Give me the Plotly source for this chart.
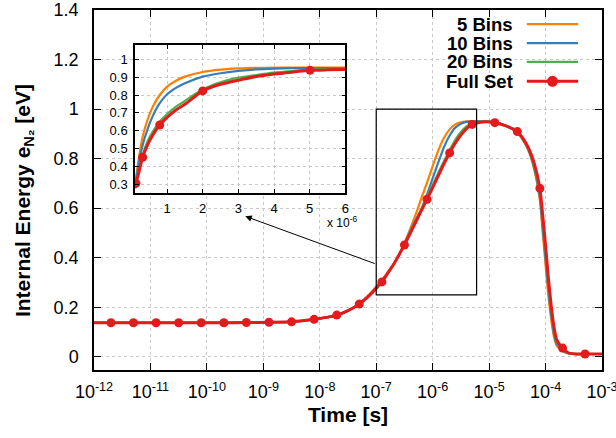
import plotly.graph_objects as go

# ---------------- data: main panel (time in s) ----------------
main_times = [1e-12, 2e-12, 5e-12, 1.26e-11, 3.16e-11, 7.94e-11, 2e-10, 5e-10, 1.26e-9, 3.16e-9,
              7.94e-9, 2e-8, 3.16e-8, 5e-8, 7.94e-8, 1e-7, 1.26e-7, 1.58e-7, 2e-7, 2.51e-7,
              3.16e-7, 3.98e-7, 5.01e-7, 6.31e-7, 7.94e-7, 1e-6, 1.26e-6, 1.58e-6, 2e-6, 2.51e-6,
              3.16e-6, 3.98e-6, 5.01e-6, 6.31e-6, 7.94e-6, 1e-5, 1.26e-5, 2e-5, 3.16e-5, 3.98e-5,
              5.01e-5, 6.31e-5, 7.94e-5, 8.91e-5, 1e-4, 1.12e-4, 1.26e-4, 1.41e-4, 1.58e-4, 2e-4,
              2.51e-4, 3.16e-4, 5.01e-4, 1e-3]

flat_start = [0.137, 0.137, 0.137, 0.137, 0.137, 0.137, 0.137, 0.138, 0.139, 0.141,
              0.151, 0.168, 0.186]

bins5_main = flat_start + [0.214, 0.257, 0.283, 0.31, 0.34, 0.372, 0.408,
              0.46, 0.515, 0.575, 0.64, 0.703, 0.77, 0.833, 0.883, 0.918, 0.938,
              0.947, 0.95, 0.951, 0.951, 0.95, 0.949, 0.946, 0.932, 0.905, 0.875,
              0.83, 0.755, 0.63, 0.5, 0.37, 0.25, 0.15, 0.08, 0.045, 0.022,
              0.013, 0.011, 0.011, 0.011]

bins10_main = flat_start + [0.213, 0.255, 0.28, 0.306, 0.337, 0.371, 0.407,
              0.456, 0.505, 0.553, 0.597, 0.655, 0.72, 0.785, 0.845, 0.893, 0.925,
              0.941, 0.948, 0.95, 0.95, 0.95, 0.949, 0.946, 0.932, 0.906, 0.877,
              0.834, 0.762, 0.645, 0.52, 0.395, 0.27, 0.168, 0.092, 0.052, 0.026,
              0.014, 0.011, 0.011, 0.011]

bins20_main = flat_start + [0.213, 0.253, 0.278, 0.304, 0.336, 0.37, 0.409,
              0.453, 0.5, 0.547, 0.594, 0.643, 0.693, 0.743, 0.789, 0.835, 0.876,
              0.908, 0.93, 0.943, 0.948, 0.95, 0.949, 0.946, 0.932, 0.907, 0.879,
              0.838, 0.77, 0.66, 0.545, 0.42, 0.295, 0.185, 0.105, 0.06, 0.03,
              0.015, 0.011, 0.011, 0.011]

full_main = flat_start + [0.2125, 0.252, 0.276, 0.302, 0.335, 0.37, 0.41,
              0.451, 0.497, 0.543, 0.59, 0.636, 0.683, 0.731, 0.778, 0.823, 0.862,
              0.895, 0.921, 0.938, 0.945, 0.948, 0.948, 0.945, 0.932, 0.909, 0.882,
              0.842, 0.78, 0.68, 0.57, 0.45, 0.32, 0.205, 0.12, 0.068, 0.035,
              0.016, 0.012, 0.011, 0.011]

full_marker_times = [2e-12, 5e-12, 1.26e-11, 3.16e-11, 7.94e-11, 2e-10, 5e-10, 1.26e-9,
                     3.16e-9, 7.94e-9, 2e-8, 5e-8, 1.26e-7, 3.16e-7, 7.94e-7, 2e-6, 5.01e-6,
                     1.26e-5, 3.16e-5, 7.94e-5, 2e-4, 5.01e-4]

# ---------------- data: inset (time in units of 1e-6 s) ----------------
inset_times = [0.1, 0.126, 0.2, 0.316, 0.45, 0.6, 0.794, 1.0, 1.25, 1.5, 2.0, 2.5, 3.0,
               3.5, 4.0, 4.5, 5.01, 5.5, 6.0]
bins5_inset = [0.29, 0.33, 0.436, 0.567, 0.66, 0.735, 0.80, 0.847, 0.88, 0.903, 0.929,
               0.942, 0.949, 0.952, 0.953, 0.953, 0.953, 0.953, 0.953]
bins10_inset = [0.288, 0.32, 0.41, 0.52, 0.608, 0.683, 0.754, 0.804, 0.84, 0.866, 0.903,
                0.922, 0.935, 0.944, 0.948, 0.95, 0.951, 0.951, 0.951]
bins20_inset = [0.286, 0.31, 0.37, 0.465, 0.54, 0.595, 0.65, 0.694, 0.735, 0.767, 0.832,
                0.871, 0.897, 0.912, 0.925, 0.934, 0.942, 0.946, 0.948]
full_inset = [0.278, 0.306, 0.36, 0.451, 0.52, 0.576, 0.632, 0.675, 0.716, 0.748, 0.823,
              0.86, 0.883, 0.903, 0.917, 0.928, 0.938, 0.941, 0.943]
inset_marker_times = [0.126, 0.316, 0.794, 2.0, 5.01]

series_names = ["5 Bins", "10 Bins", "20 Bins", "Full Set"]
series_colors = ["#ff7f00", "#377eb8", "#4daf4a", "#e41a1c"]
x_tick_vals = [1e-12, 1e-11, 1e-10, 1e-9, 1e-8, 1e-7, 1e-6, 1e-5, 1e-4, 1e-3]
x_tick_text = ["10<sup>-12</sup>", "10<sup>-11</sup>", "10<sup>-10</sup>", "10<sup>-9</sup>",
               "10<sup>-8</sup>", "10<sup>-7</sup>", "10<sup>-6</sup>", "10<sup>-5</sup>",
               "10<sup>-4</sup>", "10<sup>-3</sup>"]
inset_tick_vals = [1, 2, 3, 4, 5, 6]
zoom_box_x = [1e-7, 6e-6]
zoom_box_y = [0.25, 1.0]

FONT = "Liberation Sans, Arial, sans-serif"
fig = go.Figure()

main_series = [bins5_main, bins10_main, bins20_main, full_main]
inset_series = [bins5_inset, bins10_inset, bins20_inset, full_inset]
widths = [2.2, 2.2, 2.2, 3]

for name, col, w, ys in zip(series_names, series_colors, widths, main_series):
    fig.add_trace(go.Scatter(x=main_times, y=ys, mode="lines", name=name,
                             line=dict(color=col, width=w, shape="spline", smoothing=0.6),
                             showlegend=False, xaxis="x", yaxis="y"))
idx = [main_times.index(t) for t in full_marker_times]
fig.add_trace(go.Scatter(x=[main_times[i] for i in idx], y=[full_main[i] for i in idx],
                         mode="markers", marker=dict(color=series_colors[3], size=9),
                         showlegend=False, xaxis="x", yaxis="y"))

for name, col, w, ys in zip(series_names, series_colors, widths, inset_series):
    fig.add_trace(go.Scatter(x=inset_times, y=ys, mode="lines", name=name,
                             line=dict(color=col, width=w, shape="spline", smoothing=0.6),
                             showlegend=False, xaxis="x2", yaxis="y2"))
iidx = [inset_times.index(t) for t in inset_marker_times]
fig.add_trace(go.Scatter(x=[inset_times[i] for i in iidx], y=[full_inset[i] for i in iidx],
                         mode="markers", marker=dict(color=series_colors[3], size=9),
                         showlegend=False, xaxis="x2", yaxis="y2"))

axis_common = dict(showline=True, linecolor="black", linewidth=1.5, mirror="allticks",
                   ticks="inside", tickcolor="black", tickwidth=1, showgrid=True,
                   gridcolor="#c8c8c8", griddash="dot", gridwidth=1, zeroline=False,
                   automargin=False)

fig.update_layout(
    width=616, height=438,
    margin=dict(l=94, r=14, t=10, b=68),
    paper_bgcolor="white", plot_bgcolor="white",
    font=dict(family=FONT, color="black"),
    showlegend=False,
    xaxis=dict(type="log", range=[-12, -3], tickvals=x_tick_vals, ticktext=x_tick_text,
               ticklen=7, tickfont=dict(size=18), ticklabelstandoff=5,
               ticklabeloverflow="allow",
               title=dict(text="<b>Time [s]</b>", font=dict(size=21), standoff=6),
               **axis_common),
    yaxis=dict(range=[-0.0536, 1.4], tick0=0, dtick=0.2, ticklen=7,
               tickfont=dict(size=18), ticklabelstandoff=10, **axis_common),
    xaxis2=dict(anchor="y2", domain=[0.0807, 0.4947], range=[0.1, 6],
                tickvals=inset_tick_vals, ticklen=4, tickfont=dict(size=13),
                ticklabelstandoff=3, **axis_common),
    yaxis2=dict(anchor="x2", domain=[0.4925, 0.9028], range=[0.253, 1.08],
                tickvals=[0.3, 0.4, 0.5, 0.6, 0.7, 0.8, 0.9, 1.0],
                ticktext=["0.3", "0.4", "0.5", "0.6", "0.7", "0.8", "0.9", "1"],
                ticklen=4, tickfont=dict(size=13), ticklabelstandoff=3, **axis_common),
)

# y-axis title (placed like gnuplot, slightly below centre)
fig.add_annotation(xref="paper", yref="paper", x=-0.1378, y=0.472, textangle=-90,
                   xanchor="center", yanchor="middle", showarrow=False,
                   text="<b>Internal Energy e<sub>N₂</sub> [eV]</b>",
                   font=dict(size=21, family=FONT))

# zoom box on main panel
fig.add_shape(type="rect", xref="x", yref="y", x0=zoom_box_x[0], x1=zoom_box_x[1],
              y0=zoom_box_y[0], y1=zoom_box_y[1], line=dict(color="black", width=1.2))

# arrow from the zoom box to the inset
fig.add_annotation(xref="x", yref="y", axref="x", ayref="y",
                   x=-9.32, y=0.567, ax=-7.0, ay=0.374, text="", showarrow=True,
                   arrowhead=2, arrowsize=1.3, arrowwidth=1, arrowcolor="black")

# x 10^-6 factor for inset
fig.add_annotation(xref="paper", yref="paper", x=0.521, y=0.41, xanchor="right",
                   yanchor="middle", text="x 10<sup>-6</sup>", showarrow=False,
                   font=dict(size=12, family=FONT))

# custom gnuplot-style legend (text left of sample)
leg_y = [0.961, 0.908, 0.856, 0.802]
for name, col, w, yy in zip(series_names, series_colors, widths, leg_y):
    fig.add_annotation(xref="paper", yref="paper", x=0.829, y=yy, xanchor="right",
                       yanchor="middle", text=f"<b>{name}</b>", showarrow=False,
                       font=dict(size=18.5, family=FONT))
    fig.add_shape(type="line", xref="paper", yref="paper", x0=0.852, x1=0.953,
                  y0=yy, y1=yy, line=dict(color=col, width=w))
fig.add_shape(type="circle", xref="paper", yref="paper", xsizemode="pixel",
              ysizemode="pixel", xanchor=0.9025, yanchor=leg_y[3], x0=-4.5, x1=4.5,
              y0=-4.5, y1=4.5, fillcolor=series_colors[3], line=dict(color=series_colors[3]))

fig.write_html("out.html")
